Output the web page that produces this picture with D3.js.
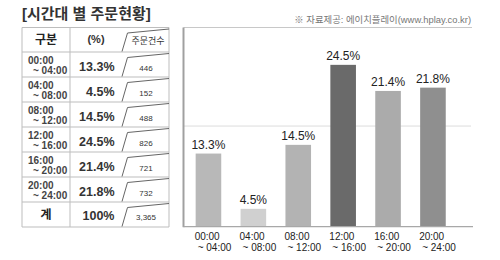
<!DOCTYPE html>
<html>
<head>
<meta charset="utf-8">
<script src="https://cdn.jsdelivr.net/npm/d3@7"></script>
<style>
  body { margin: 0; background: #fff; }
  text { font-family: "Liberation Sans", "Noto Sans CJK KR", sans-serif; }
</style>
</head>
<body>
<div id="chart"></div>
<script>
const title = "[시간대 별 주문현황]";
const source = "※ 자료제공: 에이치플레이(www.hplay.co.kr)";
const slotStart = ["00:00", "04:00", "08:00", "12:00", "16:00", "20:00"];
const slotEnd = ["~ 04:00", "~ 08:00", "~ 12:00", "~ 16:00", "~ 20:00", "~ 24:00"];
const shares = [13.3, 4.5, 14.5, 24.5, 21.4, 21.8];
const orders = [446, 152, 488, 826, 721, 732];
const totalLabel = "계";
const totalShare = 100;
const totalOrders = 3365;
const headers = ["구분", "(%)", "주문건수"];
const gridValues = [17];

const barColors = ["#b8b8b8", "#d0d0d0", "#b3b3b3", "#6a6a6a", "#ababab", "#8f8f8f"];

const width = 500, height = 260;

const svg = d3
  .select("#chart")
  .append("svg")
  .attr("width", width)
  .attr("height", height);

// title + source
svg.append("text")
  .attr("x", 22).attr("y", 19)
  .attr("font-size", 15).attr("font-weight", "bold").attr("fill", "#333")
  .text(title);

svg.append("text")
  .attr("x", 471).attr("y", 23)
  .attr("text-anchor", "end")
  .attr("font-size", 9.4).attr("fill", "#777")
  .text(source);

// ---- table ----
const tbl = svg.append("g");
const tLeft = 22, tDiv = 70, tCard = 123, tRight = 169;
const headTop = 27.5, headBottom = 52;
const rowKeys = d3.range(slotStart.length + 1);
const rowY = d3.scaleBand().domain(rowKeys).range([headBottom, 227]);

const lineColor = "#bdbdbd";
// horizontal lines
const hLines = [headTop, headBottom].concat(rowKeys.map((d) => rowY(d) + rowY.bandwidth()));
tbl.selectAll("line.h")
  .data(hLines)
  .enter()
  .append("line")
  .attr("x1", tLeft).attr("x2", tRight)
  .attr("y1", (d) => d).attr("y2", (d) => d)
  .attr("stroke", lineColor).attr("stroke-width", 1);

// vertical lines
[tLeft, tDiv, tRight].forEach((x) => {
  tbl.append("line")
    .attr("x1", x).attr("x2", x)
    .attr("y1", headTop).attr("y2", 227)
    .attr("stroke", lineColor).attr("stroke-width", 1);
});

// folded card shapes in the count column
const cardRows = [{ top: headTop, bottom: headBottom }].concat(
  rowKeys.map((d) => ({ top: rowY(d), bottom: rowY(d) + rowY.bandwidth() }))
);
tbl.selectAll("path.card")
  .data(cardRows)
  .enter()
  .append("path")
  .attr("d", (d) =>
    d3.line()([
      [tCard - 1, d.bottom - 0.5],
      [tCard + 4.5, d.top + 5.5],
      [tRight, d.top + 1.5],
    ])
  )
  .attr("fill", "none")
  .attr("stroke", "#666").attr("stroke-width", 1);

// header texts
tbl.append("text")
  .attr("x", 46).attr("y", 43.5)
  .attr("text-anchor", "middle")
  .attr("font-size", 12).attr("font-weight", "bold").attr("fill", "#222")
  .text(headers[0]);
tbl.append("text")
  .attr("x", 96).attr("y", 43)
  .attr("text-anchor", "middle")
  .attr("font-size", 11).attr("font-weight", "bold").attr("fill", "#333")
  .text(headers[1]);
tbl.append("text")
  .attr("x", 148).attr("y", 44)
  .attr("text-anchor", "middle")
  .attr("font-size", 9).attr("fill", "#333")
  .text(headers[2]);

const fmtPct = (v) => v + "%";
const fmtCount = d3.format(",");

// slot rows
slotStart.forEach((s, i) => {
  const top = rowY(i);
  tbl.append("text")
    .attr("x", 28).attr("y", top + 11.5)
    .attr("font-size", 10).attr("font-weight", "bold").attr("fill", "#444")
    .text(s);
  tbl.append("text")
    .attr("x", 33).attr("y", top + 21.5)
    .attr("font-size", 10).attr("font-weight", "bold").attr("fill", "#444")
    .text(slotEnd[i]);
  tbl.append("text")
    .attr("x", 114.5).attr("y", top + 18.5)
    .attr("text-anchor", "end")
    .attr("font-size", 12.5).attr("font-weight", "bold").attr("fill", "#333")
    .text(fmtPct(shares[i]));
  tbl.append("text")
    .attr("x", 146).attr("y", top + 19)
    .attr("text-anchor", "middle")
    .attr("font-size", 8).attr("fill", "#333")
    .text(fmtCount(orders[i]));
});

// total row
const totTop = rowY(slotStart.length);
tbl.append("text")
  .attr("x", 46).attr("y", totTop + 17)
  .attr("text-anchor", "middle")
  .attr("font-size", 12).attr("font-weight", "bold").attr("fill", "#222")
  .text(totalLabel);
tbl.append("text")
  .attr("x", 114.5).attr("y", totTop + 17.5)
  .attr("text-anchor", "end")
  .attr("font-size", 12.5).attr("font-weight", "bold").attr("fill", "#333")
  .text(fmtPct(totalShare));
tbl.append("text")
  .attr("x", 146).attr("y", totTop + 18)
  .attr("text-anchor", "middle")
  .attr("font-size", 8).attr("fill", "#333")
  .text(fmtCount(totalOrders));

// ---- bar chart ----
const cLeft = 183.5, cRight = 472, cTop = 27.5, cBase = 226.7;

const x = d3.scaleBand()
  .domain(d3.range(shares.length))
  .range([186, 455.4])
  .paddingInner(0.43)
  .paddingOuter(0.215);

const y = d3.scalePow().exponent(1.3).domain([0, 30]).range([cBase, 16.1]);

const chart = svg.append("g");

// top rule under source
chart.append("line")
  .attr("x1", cLeft).attr("x2", cRight)
  .attr("y1", cTop).attr("y2", cTop)
  .attr("stroke", "#c8c8c8").attr("stroke-width", 1);

// grid
chart.selectAll("line.grid")
  .data(gridValues)
  .enter()
  .append("line")
  .attr("x1", cLeft).attr("x2", cRight - 1)
  .attr("y1", (d) => y(d)).attr("y2", (d) => y(d))
  .attr("stroke", "#dcdcdc").attr("stroke-width", 1);

chart.selectAll("rect")
  .data(shares)
  .enter()
  .append("rect")
  .attr("x", (d, i) => x(i))
  .attr("y", (d) => y(d))
  .attr("width", x.bandwidth())
  .attr("height", (d) => cBase - y(d))
  .attr("fill", (d, i) => barColors[i]);

chart.selectAll("text.val")
  .data(shares)
  .enter()
  .append("text")
  .attr("x", (d, i) => x(i) + x.bandwidth() / 2)
  .attr("y", (d) => y(d) - 5)
  .attr("text-anchor", "middle")
  .attr("font-size", 12).attr("fill", "#222")
  .text((d) => fmtPct(d));

// axes lines
chart.append("line")
  .attr("x1", cLeft).attr("x2", cLeft)
  .attr("y1", cTop).attr("y2", cBase + 0.5)
  .attr("stroke", "#a0a0a0").attr("stroke-width", 2);
chart.append("line")
  .attr("x1", cLeft).attr("x2", cRight + 1)
  .attr("y1", cBase).attr("y2", cBase)
  .attr("stroke", "#a8a8a8").attr("stroke-width", 1.2);

// x labels
slotStart.forEach((s, i) => {
  chart.append("text")
    .attr("x", x(i) - 1).attr("y", 239.5)
    .attr("font-size", 10).attr("fill", "#222")
    .text(s);
  chart.append("text")
    .attr("x", x(i) + 2).attr("y", 251)
    .attr("font-size", 10).attr("fill", "#222")
    .text(slotEnd[i]);
});
</script>
</body>
</html>
